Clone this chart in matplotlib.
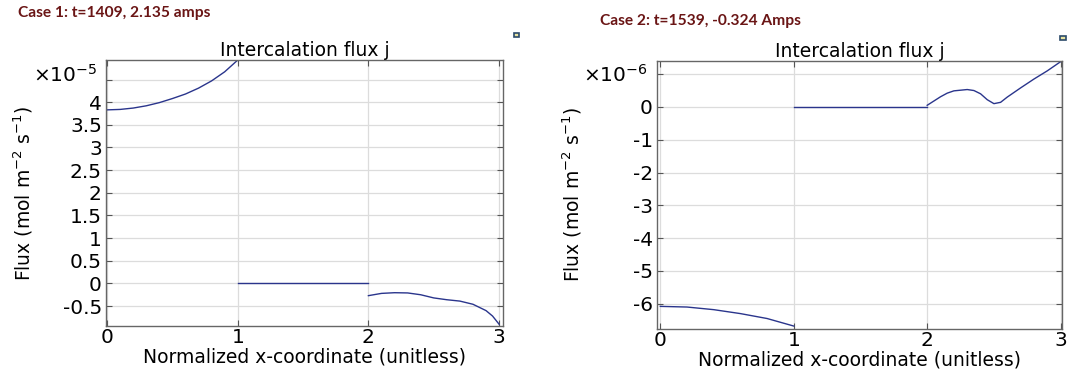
import numpy as np
import matplotlib
matplotlib.use('Agg')
import matplotlib.pyplot as plt
from matplotlib.patches import Rectangle

# case 1 data (values in units of 1e-5)
c1_x1 = [0.0, 0.1, 0.2, 0.3, 0.4, 0.5, 0.6, 0.7, 0.8, 0.9, 1.0]
c1_y1 = [3.83, 3.84, 3.87, 3.92, 3.99, 4.08, 4.18, 4.31, 4.47, 4.67, 4.93]
c1_x2 = [1.0, 2.0]
c1_y2 = [0.0, 0.0]
c1_x3 = [2.0, 2.1, 2.2, 2.3, 2.4, 2.5, 2.6, 2.7, 2.8, 2.9, 2.95, 3.0]
c1_y3 = [-0.27, -0.22, -0.205, -0.21, -0.25, -0.32, -0.36, -0.39, -0.46, -0.6, -0.72, -0.9]

# case 2 data (values in units of 1e-6)
c2_x1 = [0.0, 0.2, 0.4, 0.6, 0.8, 1.0]
c2_y1 = [-6.08, -6.1, -6.18, -6.3, -6.45, -6.68]
c2_x2 = [1.0, 2.0]
c2_y2 = [0.0, 0.0]
c2_x3 = [2.0, 2.05, 2.1, 2.15, 2.2, 2.3, 2.35, 2.4, 2.45, 2.5, 2.55, 2.6, 2.7, 2.8, 2.9, 3.0]
c2_y3 = [0.05, 0.18, 0.31, 0.42, 0.49, 0.53, 0.5, 0.4, 0.22, 0.1, 0.14, 0.3, 0.58, 0.85, 1.1, 1.38]

c1_yticks = [-0.5, 0, 0.5, 1, 1.5, 2, 2.5, 3, 3.5, 4, 4.5]
c1_ylabels = ['-0.5', '0', '0.5', '1', '1.5', '2', '2.5', '3', '3.5', '4', '']
c2_yticks = [-6, -5, -4, -3, -2, -1, 0, 1]
c2_ylabels = ['-6', '-5', '-4', '-3', '-2', '-1', '0', '']

line_col = '#2a358c'
case_col = '#6a1515'

fig = plt.figure(figsize=(10.7, 3.74), dpi=100)
ax1 = fig.add_axes([0.0991, 0.1283, 0.371, 0.7112])
ax2 = fig.add_axes([0.614, 0.1203, 0.3785, 0.7166])


def style(ax, yticks, ylabels):
    ax.set_xticks([0, 1, 2, 3])
    ax.set_yticks(yticks)
    ax.set_yticklabels(ylabels)
    ax.grid(True, color='#dcdcdc', linewidth=0.9)
    ax.set_axisbelow(True)
    ax.tick_params(direction='in', top=True, right=True, length=4, color='#555555',
                   labelsize=14.5, pad=3)
    ax.tick_params(axis='x', pad=1.5)
    for s in ax.spines.values():
        s.set_color('#666666')
        s.set_linewidth(1.0)
    ax.set_title('Intercalation flux j', fontsize=13.5, pad=3)
    ax.set_xlabel('Normalized x-coordinate (unitless)', fontsize=13.5, labelpad=0)
    ax.set_ylabel('Flux (mol m$^{-2}$ s$^{-1}$)', fontsize=13.5)


for xs, ys in [(c1_x1, c1_y1), (c1_x2, c1_y2), (c1_x3, c1_y3)]:
    ax1.plot(xs, ys, color=line_col, linewidth=1.0)
ax1.set_xlim(-0.008, 3.03)
ax1.set_ylim(-0.94, 4.93)
style(ax1, c1_yticks, c1_ylabels)
ax1.yaxis.set_label_coords(-0.18, 0.5)

for xs, ys in [(c2_x1, c2_y1), (c2_x2, c2_y2), (c2_x3, c2_y3)]:
    ax2.plot(xs, ys, color=line_col, linewidth=1.0)
ax2.set_xlim(-0.025, 3.01)
ax2.set_ylim(-6.77, 1.40)
style(ax2, c2_yticks, c2_ylabels)
ax2.yaxis.set_label_coords(-0.18, 0.5)

fig.text(0.031, 0.80, r'$\times$10$^{-5}$', fontsize=14.5, va='center')
fig.text(0.545, 0.80, r'$\times$10$^{-6}$', fontsize=14.5, va='center')

fig.text(0.017, 0.965, 'Case 1: t=1409, 2.135 amps', color=case_col,
         fontsize=11.2, fontweight='bold', family='Lato', va='center')
fig.text(0.561, 0.945, 'Case 2: t=1539, -0.324 Amps', color=case_col,
         fontsize=11.2, fontweight='bold', family='Lato', va='center')

# small toolbar icons at the top right of each plot
for xf, yf in [(0.480, 0.900), (0.991, 0.892)]:
    fig.patches.append(Rectangle((xf, yf), 0.005, 0.013, transform=fig.transFigure,
                                 facecolor='#e8e3a0', edgecolor='#2b4a6a', linewidth=1.2))

fig.savefig('out.png', dpi=100)
